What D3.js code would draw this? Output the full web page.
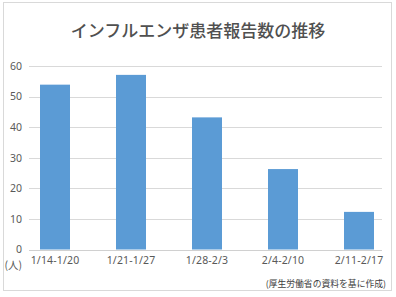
<!DOCTYPE html>
<html><head><meta charset="utf-8">
<script src="https://cdn.jsdelivr.net/npm/d3@7"></script>
<style>body{margin:0;background:#fff}svg{display:block;font-family:"Noto Sans CJK JP","Noto Sans",sans-serif}</style>
</head><body><svg id="c" width="396" height="297"></svg>
<script>
const categories = ["1/14-1/20","1/21-1/27","1/28-2/3","2/4-2/10","2/11-2/17"];
const values = [53.9, 57.1, 43.2, 26.3, 12.3];
const yTicks = [0,10,20,30,40,50,60];
const title = "インフルエンザ患者報告数の推移";
const unitLabel = "(人)";
const sourceNote = "(厚生労働省の資料を基に作成)";

const svg = d3.select("#c");
svg.append("rect").attr("x",3.5).attr("y",2.5).attr("width",388).attr("height",288)
  .attr("fill","#fff").attr("stroke","#d9d9d9");

const x = d3.scaleBand().domain(categories).range([17,397]).paddingInner(46/76).paddingOuter(23/76);
const y = d3.scaleLinear().domain([0,60]).range([249.5,66]);

const grid = svg.append("g");
grid.selectAll("line").data(yTicks).join("line")
  .attr("x1",29).attr("x2",382).attr("y1",d=>Math.round(y(d))+0.5).attr("y2",d=>Math.round(y(d))+0.5)
  .attr("stroke",d=>d===0?"#d0d0d0":"#d9d9d9");

const yAxis = svg.append("g").attr("transform","translate(29,0)")
  .call(d3.axisLeft(y).tickValues(yTicks).tickSize(0).tickPadding(7));
yAxis.select(".domain").remove();
yAxis.selectAll("text").attr("fill","#595959").style("font-size","10.5px").style("font-family","'Noto Sans','DejaVu Sans',sans-serif");

svg.append("g").selectAll("rect").data(values).join("rect")
  .attr("x",(d,i)=>x(categories[i])).attr("width",x.bandwidth())
  .attr("y",d=>y(d)).attr("height",d=>y(0)-y(d)).attr("fill","#5b9bd5");

const xAxis = svg.append("g").attr("transform","translate(0,257)")
  .call(d3.axisBottom(x).tickSize(0).tickPadding(0));
xAxis.select(".domain").remove();
xAxis.selectAll("text").attr("fill","#595959").attr("dy","0.71em").style("font-size","10.5px").style("letter-spacing","0.15px").style("font-family","'Noto Sans','DejaVu Sans',sans-serif");

svg.append("text").attr("x",22).attr("y",269).attr("text-anchor","end")
  .attr("fill","#595959").style("font-size","10.5px").text(unitLabel);

svg.append("text").attr("x",198).attr("y",37).attr("text-anchor","middle")
  .attr("fill","#505050").style("font-size","17px").style("font-weight","500").text(title);

svg.append("text").attr("x",386).attr("y",287).attr("text-anchor","end")
  .attr("fill","#404040").style("font-size","8.8px").text(sourceNote);
</script></body></html>
